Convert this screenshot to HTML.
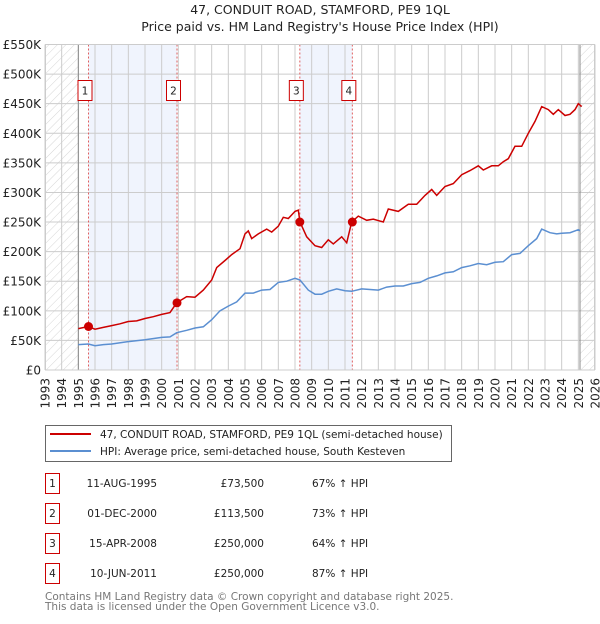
<!DOCTYPE html>
<html><head><meta charset="utf-8"><style>
body{margin:0;background:#fff;font-family:"DejaVu Sans","Liberation Sans",sans-serif;}
svg text{font-family:"DejaVu Sans","Liberation Sans",sans-serif;}
</style></head><body>
<svg id="chart" width="600" height="620" xmlns="http://www.w3.org/2000/svg">
<defs>
<pattern id="hatch" width="6" height="6" patternUnits="userSpaceOnUse" patternTransform="rotate(45)">
<line x1="0" y1="0" x2="0" y2="6" stroke="#ccc" stroke-width="0.8"/>
</pattern>
</defs>
<text x="320" y="14" text-anchor="middle" font-size="12.5" fill="#222">47, CONDUIT ROAD, STAMFORD, PE9 1QL</text>
<text x="320" y="31" text-anchor="middle" font-size="12.5" fill="#222">Price paid vs. HM Land Registry's House Price Index (HPI)</text>
<g id="plot"></g>
<g id="legend">
<rect x="45.5" y="425.5" width="406" height="36" fill="#fff" stroke="#666"/>
<line x1="50" y1="434" x2="91" y2="434" stroke="#cc0000" stroke-width="2"/>
<text x="100" y="438" font-size="10.5" fill="#222">47, CONDUIT ROAD, STAMFORD, PE9 1QL (semi-detached house)</text>
<line x1="50" y1="451" x2="91" y2="451" stroke="#5b8fd1" stroke-width="2"/>
<text x="100" y="455" font-size="10.5" fill="#222">HPI: Average price, semi-detached house, South Kesteven</text>
</g>
<g id="table" font-size="10.5" fill="#222"></g>
<text x="45" y="600" font-size="10.5" fill="#777">Contains HM Land Registry data © Crown copyright and database right 2025.</text>
<text x="45" y="610" font-size="10.5" fill="#777">This data is licensed under the Open Government Licence v3.0.</text>
</svg>
<script>
const yTicks=[0,50,100,150,200,250,300,350,400,450,500,550];
const yTickLabels=["£0","£50K","£100K","£150K","£200K","£250K","£300K","£350K","£400K","£450K","£500K","£550K"];
const xYears=[1993,1994,1995,1996,1997,1998,1999,2000,2001,2002,2003,2004,2005,2006,2007,2008,2009,2010,2011,2012,2013,2014,2015,2016,2017,2018,2019,2020,2021,2022,2023,2024,2025,2026];
const hpiT=[1995.0,1995.6,1996.0,1996.5,1997,1998,1999,2000,2000.5,2000.9,2001.5,2002,2002.5,2003,2003.5,2004,2004.5,2005,2005.5,2006,2006.5,2007,2007.5,2008,2008.3,2008.8,2009.2,2009.6,2010,2010.5,2011,2011.4,2012,2012.5,2013,2013.5,2014,2014.5,2015,2015.5,2016,2016.5,2017,2017.5,2018,2018.5,2019,2019.5,2020,2020.5,2021,2021.5,2022,2022.5,2022.8,2023.3,2023.7,2024,2024.5,2025,2025.1];
const hpiV=[43,44,41,43,44,48,51,55,56,63,67,71,73,85,100,108,115,130,130,135,136,148,150,155,152,135,128,128,133,137,134,133,137,136,135,140,142,142,146,148,155,159,164,166,173,176,180,178,182,183,195,197,210,222,238,232,230,231,232,237,235];
const priceT=[1995.0,1995.6,1996,1996.5,1997,1997.5,1998,1998.5,1999,1999.5,2000,2000.5,2000.9,2001.5,2002,2002.5,2003,2003.3,2003.8,2004.2,2004.7,2005,2005.2,2005.4,2005.8,2006.3,2006.6,2007,2007.3,2007.6,2008,2008.2,2008.3,2008.7,2009.2,2009.6,2010,2010.3,2010.8,2011.1,2011.4,2011.8,2012.3,2012.7,2013.3,2013.6,2014.2,2014.8,2015.3,2015.8,2016.2,2016.5,2017,2017.5,2018,2018.5,2019,2019.3,2019.8,2020.2,2020.5,2020.8,2021.2,2021.6,2022,2022.4,2022.8,2023.2,2023.5,2023.8,2024.2,2024.5,2024.8,2025,2025.2];
const priceV=[70,73.5,69,72,75,78,82,83,87,90,94,97,113.5,124,123,135,152,173,185,195,205,230,235,222,230,238,233,243,258,256,268,270,250,225,210,207,220,213,225,215,250,260,253,255,250,272,268,280,280,295,305,295,310,315,330,337,345,338,345,345,352,357,378,378,400,420,445,440,432,440,430,432,440,450,445];
const saleLabels=["1","2","3","4"];
const saleT=[1995.61,2000.92,2008.29,2011.44];
const saleV=[73.5,113.5,250,250];
const saleDates=["11-AUG-1995","01-DEC-2000","15-APR-2008","10-JUN-2011"];
const salePrices=["£73,500","£113,500","£250,000","£250,000"];
const saleHpi=["67% ↑ HPI","73% ↑ HPI","64% ↑ HPI","87% ↑ HPI"];

const X0=45,X1=595,Y0=370,Y1=44.5;
const xs=t=>X0+(t-1993)/(2026-1993)*(X1-X0);
const ys=v=>Y0-v/550*(Y0-Y1);
const NS="http://www.w3.org/2000/svg";
const plot=document.getElementById('plot');
function mk(tag,attrs,parent){const e=document.createElementNS(NS,tag);for(const k in attrs)e.setAttribute(k,attrs[k]);(parent||plot).appendChild(e);return e;}

let e;
e=mk('rect',{x:X0,y:Y1,width:X1-X0,height:Y0-Y1,fill:'#fff'});


e=mk('rect',{x:xs(1993),y:Y1,width:xs(1995)-xs(1993),height:Y0-Y1,fill:'url(#hatch)'});


e=mk('rect',{x:xs(2025.1),y:Y1,width:xs(2026)-xs(2025.1),height:Y0-Y1,fill:'url(#hatch)'});


e=mk('rect',{x:xs(saleT[0]),y:Y1,width:xs(saleT[1])-xs(saleT[0]),height:Y0-Y1,fill:'#f0f4fd'});


e=mk('rect',{x:xs(saleT[2]),y:Y1,width:xs(saleT[3])-xs(saleT[2]),height:Y0-Y1,fill:'#f0f4fd'});



yTicks.forEach((v,i)=>{
  e=mk('line',{x1:X0,x2:X1,y1:ys(v),y2:ys(v),stroke:'#ccc','stroke-width':1});
  
  
  e=mk('text',{x:X0-4,y:ys(v)+4.5,'text-anchor':'end','font-size':12,fill:'#222'});
  e.textContent=yTickLabels[i];
  
  
});
xYears.forEach(yr=>{
  e=mk('line',{x1:xs(yr),x2:xs(yr),y1:Y1,y2:Y0,stroke:'#ccc','stroke-width':1});
  
  
  const tx=xs(yr)+4.5,ty=Y0+8;
  e=mk('text',{x:tx,y:ty,'text-anchor':'end','font-size':12,fill:'#222',transform:`rotate(-90 ${tx} ${ty})`});
  e.textContent=yr;
  
  
});
e=mk('line',{x1:xs(1995),x2:xs(1995),y1:Y1,y2:Y0,stroke:'#888','stroke-width':1});


e=mk('line',{x1:xs(2025.1),x2:xs(2025.1),y1:Y1,y2:Y0,stroke:'#888','stroke-width':1});



saleT.forEach((t,i)=>{
  e=mk('line',{x1:xs(t),x2:xs(t),y1:Y1,y2:Y0,stroke:'#e06060','stroke-width':1,'stroke-dasharray':'2,2'});
  
  
});

const path=(T,V)=>T.map((t,i)=>(i?'L':'M')+xs(t).toFixed(1)+','+ys(V[i]).toFixed(1)).join('');
e=mk('path',{d:path(hpiT,hpiV),fill:'none',stroke:'#5b8fd1','stroke-width':1.5});


e=mk('path',{d:path(priceT,priceV),fill:'none',stroke:'#cc0000','stroke-width':1.5});



saleT.forEach((t,i)=>{
  e=mk('circle',{cx:xs(t),cy:ys(saleV[i]),r:4.5,fill:'#cc0000'});
  
  
  const bx=xs(t)-10.5,by=80.5;
  e=mk('rect',{x:bx,y:by,width:14,height:20,fill:'#fff',stroke:'#cc0000','stroke-width':1});
  
  
  e=mk('text',{x:bx+7,y:by+14,'text-anchor':'middle','font-size':10.5,fill:'#222'});
  e.textContent=saleLabels[i];
  
  
});
e=mk('rect',{x:X0+0.5,y:Y1,width:X1-X0-1,height:Y0-Y1,fill:'none',stroke:'#ccc'});



const tbl=document.getElementById('table');
saleLabels.forEach((l,i)=>{
  const y=483+i*30;
  e=mk('rect',{x:45.5,y:y-9.5,width:14,height:20,fill:'#fff',stroke:'#cc0000'},tbl);
  
  
  e=mk('text',{x:52.5,y:y+4,'text-anchor':'middle'},tbl);e.textContent=l;
  
  
  e=mk('text',{x:157,y:y+4,'text-anchor':'end'},tbl);e.textContent=saleDates[i];
  
  
  e=mk('text',{x:264,y:y+4,'text-anchor':'end'},tbl);e.textContent=salePrices[i];
  
  
  e=mk('text',{x:312,y:y+4},tbl);e.textContent=saleHpi[i];
  
  
});
</script>
</body></html>
